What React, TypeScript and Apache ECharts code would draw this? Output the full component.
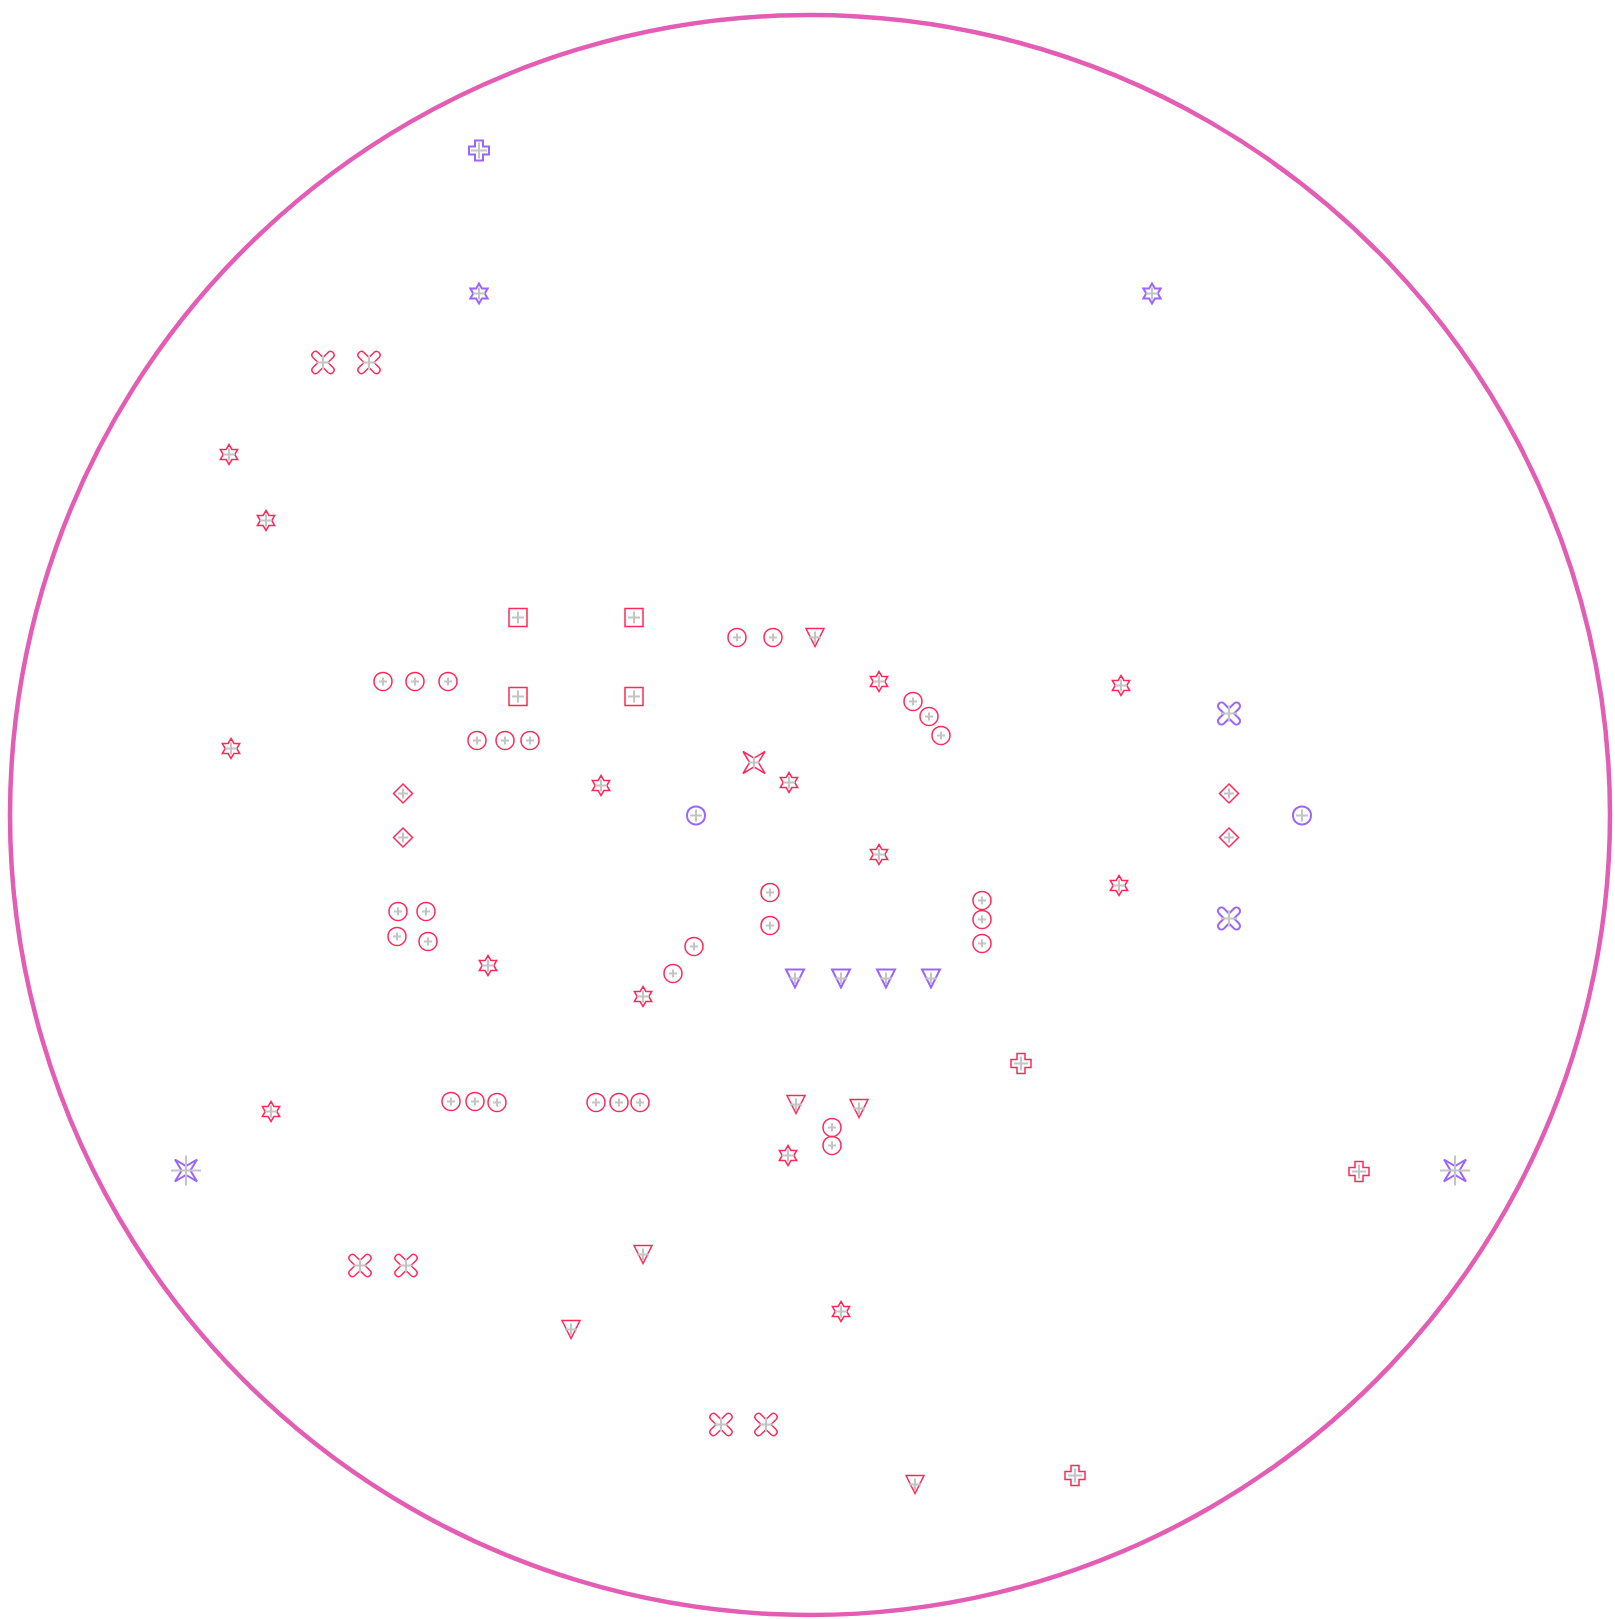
import React, { useEffect, useRef } from "react";
import * as echarts from "echarts";

const RED = "#ff2a5a";
const PURPLE = "#9966ff";
const PINK = "#e35db5";
const GRAY = "#c4c4c4";

// ring (center in page px, diameter in px)
const ringCenter: number[][] = [[809, 814.5]];
const ringDiameter = 1600;

// purple groups
const purpleCross: number[][] = [[478, 150]];
const purpleStar6: number[][] = [[478, 293], [1151, 293]];
const purplePetal: number[][] = [[1228, 713], [1228, 918]];
const purpleCircle: number[][] = [[695, 815], [1301, 815]];
const purpleStar4: number[][] = [[185, 1170], [1454, 1170]];
const purpleTriangle: number[][] = [[794, 978], [840, 978], [885, 978], [930, 978]];

// red groups
const redPetal: number[][] = [[322, 362], [368, 362], [359, 1265], [405, 1265], [720, 1424], [765, 1424]];
const redStar6: number[][] = [
  [228, 454], [265, 520], [878, 681], [1120, 685], [230, 748], [788, 782], [600, 785],
  [878, 854], [1118, 885], [487, 965], [642, 996], [270, 1111], [787, 1155], [840, 1311],
];
const redSquare: number[][] = [[517, 617], [633, 617], [517, 696], [633, 696]];
const redCircle: number[][] = [
  [736, 637], [772, 637], [382, 681], [414, 681], [447, 681], [912, 701], [928, 716], [940, 735],
  [476, 740], [504, 740], [529, 740], [769, 892], [769, 925], [981, 900], [981, 919], [981, 943],
  [397, 911], [425, 911], [396, 936], [427, 941], [693, 946], [672, 973],
  [450, 1101], [474, 1101], [496, 1102], [595, 1102], [618, 1102], [639, 1102],
  [831, 1127], [831, 1145],
];
const redTriangle: number[][] = [[814, 637], [795, 1104], [858, 1108], [642, 1254], [570, 1329], [914, 1484]];
const redDiamond: number[][] = [[402, 793], [402, 837], [1228, 793], [1228, 837]];
const redCross: number[][] = [[1020, 1063], [1358, 1171], [1074, 1475]];
const redStar4: number[][] = [[753, 762]];

const PLUS = "path://M0 10H20M10 0V20";
const CROSS = "path://M6 0H14V6H20V14H14V20H6V14H0V6H6Z";
const STAR6 =
  "path://M10 0L12.89 5L18.66 5L15.77 10L18.66 15L12.89 15L10 20L7.11 15L1.34 15L4.23 10L1.34 5L7.11 5Z";
const STAR4 = "path://M0 0L10 6L20 0L14 10L20 20L10 14L0 20L6 10Z";
const PETAL =
  "path://M10 6L14 2A2.83 2.83 0 0 1 18 6L14 10L18 14A2.83 2.83 0 0 1 14 18L10 14L6 18A2.83 2.83 0 0 1 2 14L6 10L2 6A2.83 2.83 0 0 1 6 2Z";

function shape(points: number[][], symbol: string, size: number, color: string, width: number, rotate = 0) {
  return {
    type: "scatter",
    data: points,
    symbol,
    symbolSize: size,
    symbolRotate: rotate,
    symbolKeepAspect: true,
    silent: true,
    clip: false,
    itemStyle: { color: "rgba(0,0,0,0)", borderColor: color, borderWidth: width, opacity: 1 },
    z: 3,
  };
}

function plus(points: number[][], size: number) {
  return {
    type: "scatter",
    data: points,
    symbol: PLUS,
    symbolSize: size,
    silent: true,
    clip: false,
    itemStyle: { color: "rgba(0,0,0,0)", borderColor: GRAY, borderWidth: 2, opacity: 1 },
    z: 4,
  };
}

export default function App() {
  const ref = useRef<HTMLDivElement>(null);
  useEffect(() => {
    if (!ref.current) return;
    const chart = echarts.init(ref.current, undefined, { renderer: "svg" });
    chart.setOption({
      animation: false,
      backgroundColor: "#ffffff",
      grid: { left: 0, right: 0, top: 0, bottom: 0 },
      xAxis: { type: "value", min: -1, max: 1614, show: false },
      yAxis: { type: "value", min: -0.5, max: 1618.5, inverse: true, show: false },
      series: [
        {
          type: "scatter",
          data: ringCenter,
          symbol: "circle",
          symbolSize: ringDiameter,
          silent: true,
          clip: false,
          itemStyle: { color: "rgba(0,0,0,0)", borderColor: PINK, borderWidth: 4.5, opacity: 1 },
          z: 1,
        },
        shape(purpleCross, CROSS, 20, PURPLE, 2),
        shape(purpleStar6, STAR6, 20, PURPLE, 2),
        shape(purplePetal, PETAL, 22, PURPLE, 2),
        shape(purpleCircle, "circle", 18, PURPLE, 2),
        shape(purpleStar4, STAR4, 22, PURPLE, 2),
        shape(purpleTriangle, "triangle", 18, PURPLE, 2, 180),
        shape(redPetal, PETAL, 22, RED, 1.5),
        shape(redStar6, STAR6, 20, RED, 1.5),
        shape(redSquare, "rect", 18, RED, 1.5),
        shape(redCircle, "circle", 18, RED, 1.5),
        shape(redTriangle, "triangle", 18, RED, 1.5, 180),
        shape(redDiamond, "diamond", 19, RED, 1.5),
        shape(redCross, CROSS, 20, RED, 1.5),
        shape(redStar4, STAR4, 22, RED, 1.5),
        plus(purpleCross, 16),
        plus(purpleStar6, 12),
        plus(purplePetal, 16),
        plus(purpleCircle, 12),
        plus(purpleStar4, 30),
        plus(purpleTriangle, 12),
        plus(redPetal, 14),
        plus(redStar6, 12),
        plus(redSquare, 12),
        plus(redCircle, 8),
        plus(redTriangle, 12),
        plus(redDiamond, 10),
        plus(redCross, 14),
        plus(redStar4, 12),
      ],
    });
    return () => chart.dispose();
  }, []);
  return <div ref={ref} style={{ position: "absolute", left: 0, top: 0, width: 1615, height: 1619 }} />;
}
